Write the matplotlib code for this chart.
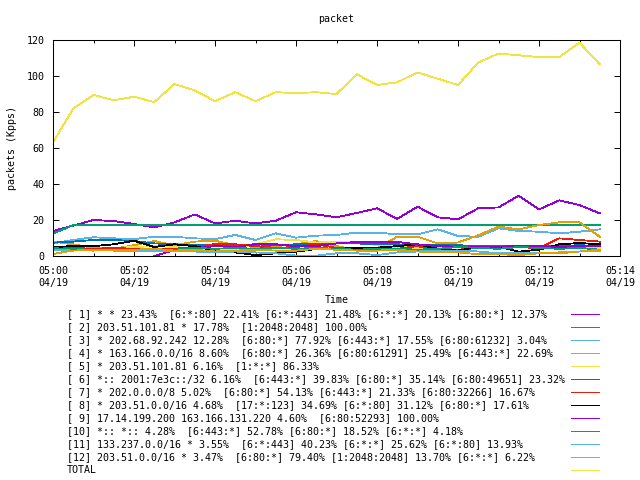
import matplotlib
matplotlib.use("Agg")
import matplotlib.pyplot as plt
from matplotlib.lines import Line2D

# ---------------- data ----------------
times = ["05:00:00", "05:00:30", "05:01:00", "05:01:30", "05:02:00", "05:02:30",
         "05:03:00", "05:03:30", "05:04:00", "05:04:30", "05:05:00", "05:05:30",
         "05:06:00", "05:06:30", "05:07:00", "05:07:30", "05:08:00", "05:08:30",
         "05:09:00", "05:09:30", "05:10:00", "05:10:30", "05:11:00", "05:11:30",
         "05:12:00", "05:12:30", "05:13:00", "05:13:30"]

s1 = [13.9, 16.9, 20.0, 19.4, 17.8, 15.9, 18.7, 23.1, 18.1, 19.6, 18.1, 19.6, 24.3, 23.1,
      21.5, 23.9, 26.5, 20.6, 27.4, 21.5, 20.4, 26.5, 27.0, 33.5, 25.9, 30.9, 28.3, 23.7]
s2 = [12.4, 17.2, 17.3, 17.3, 17.3, 17.3, 17.3, 17.3, 17.3, 17.3, 17.3, 17.3, 17.3, 17.3,
      17.3, 17.3, 17.3, 17.3, 17.1, 17.1, 17.1, 17.1, 17.1, 17.1, 17.1, 17.1, 17.1, 17.1]
s3 = [7.0, 8.9, 10.4, 9.8, 9.4, 10.7, 10.7, 9.8, 9.4, 11.7, 8.9, 12.6, 10.2, 11.3,
      11.7, 13.0, 13.0, 12.0, 12.0, 14.8, 11.1, 10.7, 15.4, 13.9, 13.5, 12.6, 13.5, 14.8]
s4 = [8.0, 6.5, 4.5, 4.0, 6.0, 8.3, 6.0, 8.0, 8.5, 6.0, 5.0, 5.5, 6.5, 8.3,
      5.5, 3.5, 4.3, 10.7, 10.7, 7.0, 7.5, 11.5, 16.3, 14.8, 17.2, 18.7, 18.7, 10.7]
s5 = [3.5, 3.0, 3.5, 4.5, 5.0, 5.5, 5.0, 4.0, 3.5, 4.0, 6.5, 9.3, 8.9, 7.5,
      7.8, 8.0, 6.0, 5.0, 4.5, 4.5, 5.5, 5.5, 5.0, 5.5, 5.7, 5.7, 5.0, 4.5]
s6 = [7.4, 8.0, 8.9, 8.9, 8.3, 7.0, 6.5, 6.0, 6.5, 6.0, 6.5, 6.0, 6.5, 6.5,
      7.0, 7.0, 6.5, 6.5, 6.0, 6.0, 6.0, 5.5, 5.5, 5.5, 5.5, 5.5, 6.0, 5.5]
s7 = [5.0, 4.5, 4.0, 4.5, 4.0, 3.5, 4.0, 5.0, 6.5, 6.5, 5.5, 4.5, 5.0, 6.5,
      4.5, 4.0, 3.5, 4.0, 5.5, 3.3, 3.5, 4.5, 4.0, 5.0, 4.3, 9.8, 8.9, 8.0]
s8 = [5.0, 5.5, 5.5, 6.5, 8.5, 5.0, 6.5, 5.5, 3.0, 2.0, 0.5, 1.5, 2.4, 3.9,
      3.9, 4.6, 4.6, 5.5, 6.5, 4.0, 3.0, 5.2, 5.2, 2.4, 3.5, 6.5, 7.2, 6.5]
s9 = [None, None, None, None, None, 0.0, 3.3, 4.3, 5.5, 5.0, 6.5, 6.5, 5.5, 5.5,
      7.0, 7.8, 7.8, 7.8, 6.5, 5.5, 5.2, 5.2, 5.2, 5.5, 5.5, 5.0, 5.5, 5.5]
s10 = [4.3, 4.0, 3.3, 3.3, 3.0, 3.0, 3.5, 4.5, 4.0, 4.5, 4.0, 4.5, 4.0, 4.5,
       4.0, 3.5, 4.0, 4.0, 3.5, 4.0, 5.0, 4.5, 4.0, 5.0, 4.5, 4.0, 4.5, 3.5]
s11 = [3.5, 3.0, 3.5, 3.0, 2.5, 3.0, 3.0, 2.5, 2.0, 2.5, 2.0, 1.5, 0.2, 0.2,
       1.5, 1.5, 0.5, 2.0, 2.5, 3.0, 3.0, 2.5, 1.5, 1.5, 1.5, 1.5, 2.5, 3.5]
s12 = [1.1, 3.1, 3.0, 3.5, 3.5, 4.0, 3.0, 3.5, 2.5, 3.0, 3.5, 3.0, 3.0, 4.0,
       3.5, 3.0, 3.0, 3.5, 2.5, 2.0, 2.0, 1.0, 1.0, 0.5, 1.5, 2.0, 2.5, 3.0]
total = [63.0, 82.0, 89.5, 86.5, 88.5, 85.5, 95.5, 92.0, 86.0, 91.0, 86.0, 91.0, 90.5, 91.0,
         90.0, 101.0, 95.0, 96.5, 102.0, 98.5, 95.0, 107.5, 112.5, 111.5, 110.5, 110.5, 118.5, 106.5]

labels = [
    "[ 1] * * 23.43%  [6:*:80] 22.41% [6:*:443] 21.48% [6:*:*] 20.13% [6:80:*] 12.37%",
    "[ 2] 203.51.101.81 * 17.78%  [1:2048:2048] 100.00%",
    "[ 3] * 202.68.92.242 12.28%  [6:80:*] 77.92% [6:443:*] 17.55% [6:80:61232] 3.04%",
    "[ 4] * 163.166.0.0/16 8.60%  [6:80:*] 26.36% [6:80:61291] 25.49% [6:443:*] 22.69%",
    "[ 5] * 203.51.101.81 6.16%  [1:*:*] 86.33%",
    "[ 6] *:: 2001:7e3c::/32 6.16%  [6:443:*] 39.83% [6:80:*] 35.14% [6:80:49651] 23.32%",
    "[ 7] * 202.0.0.0/8 5.02%  [6:80:*] 54.13% [6:443:*] 21.33% [6:80:32266] 16.67%",
    "[ 8] * 203.51.0.0/16 4.68%  [17:*:123] 34.69% [6:*:80] 31.12% [6:80:*] 17.61%",
    "[ 9] 17.14.199.200 163.166.131.220 4.60%  [6:80:52293] 100.00%",
    "[10] *:: *:: 4.28%  [6:443:*] 52.78% [6:80:*] 18.52% [6:*:*] 4.18%",
    "[11] 133.237.0.0/16 * 3.55%  [6:*:443] 40.23% [6:*:*] 25.62% [6:*:80] 13.93%",
    "[12] 203.51.0.0/16 * 3.47%  [6:80:*] 79.40% [1:2048:2048] 13.70% [6:*:*] 6.22%",
    "TOTAL",
]
colors = ["#9400d3", "#009e73", "#56b4e9", "#e69f00", "#f0e442", "#0072b2",
          "#e51e10", "#000000", "#9400d3", "#009e73", "#56b4e9", "#e69f00", "#f0e442"]

xtick_pos = [0, 2, 4, 6, 8, 10, 12, 14]
xtick_labels = ["05:00\n04/19", "05:02\n04/19", "05:04\n04/19", "05:06\n04/19",
                "05:08\n04/19", "05:10\n04/19", "05:12\n04/19", "05:14\n04/19"]
yticks = [0, 20, 40, 60, 80, 100, 120]

# ---------------- plot ----------------
MONO = ["DejaVu Sans Mono"]
FS = 7.2
LW = 0.6
plt.rcParams["font.family"] = MONO

def to_min(t):
    h, m, s = (int(v) for v in t.split(":"))
    return h * 60 + m + s / 60.0 - 300

x = [to_min(t) for t in times]
series = [s1, s2, s3, s4, s5, s6, s7, s8, s9, s10, s11, s12, total]

fig = plt.figure(figsize=(6.4, 4.8), dpi=100)
ax = fig.add_axes([53 / 640, 1 - 256 / 480, 567 / 640, 216 / 480])

for vals, c in zip(series, colors):
    xs = [xi for xi, v in zip(x, vals) if v is not None]
    ys = [v for v in vals if v is not None]
    ax.plot(xs, ys, color=c, lw=LW, antialiased=False)

ax.set_xlim(0, 14)
ax.set_ylim(0, 120)
ax.set_xticks(xtick_pos)
ax.set_xticklabels(xtick_labels, fontsize=FS, linespacing=1.25)
ax.set_xticks(range(0, 15), minor=True)
ax.set_yticks(yticks)
ax.set_yticklabels([str(v) for v in yticks], fontsize=FS)
ax.tick_params(which="major", direction="in", top=True, right=True, length=4, width=0.7)
ax.tick_params(which="minor", direction="in", top=True, right=False, left=False, length=2, width=0.7)
ax.tick_params(axis="x", which="major", pad=7)
ax.tick_params(axis="y", which="major", pad=6)
for sp in ax.spines.values():
    sp.set_linewidth(0.75)

ax.set_title("packet", fontsize=FS, pad=13)
ax.set_ylabel("packets (Kpps)", fontsize=FS)
ax.yaxis.set_label_coords(-0.0635, 0.5)
ax.set_xlabel("Time", fontsize=FS)
ax.xaxis.set_label_coords(0.5, -0.18)

# key below the plot
for i, (lab, c) in enumerate(zip(labels, colors)):
    yy = 1 - (314 + 13 * i) / 480
    fig.text(67 / 640, yy, lab, ha="left", va="center", fontsize=FS, family=MONO)
    fig.add_artist(Line2D([571 / 640, 599 / 640], [yy, yy], color=c, lw=LW,
                          antialiased=False, transform=fig.transFigure))

fig.savefig("out.png", dpi=100)
